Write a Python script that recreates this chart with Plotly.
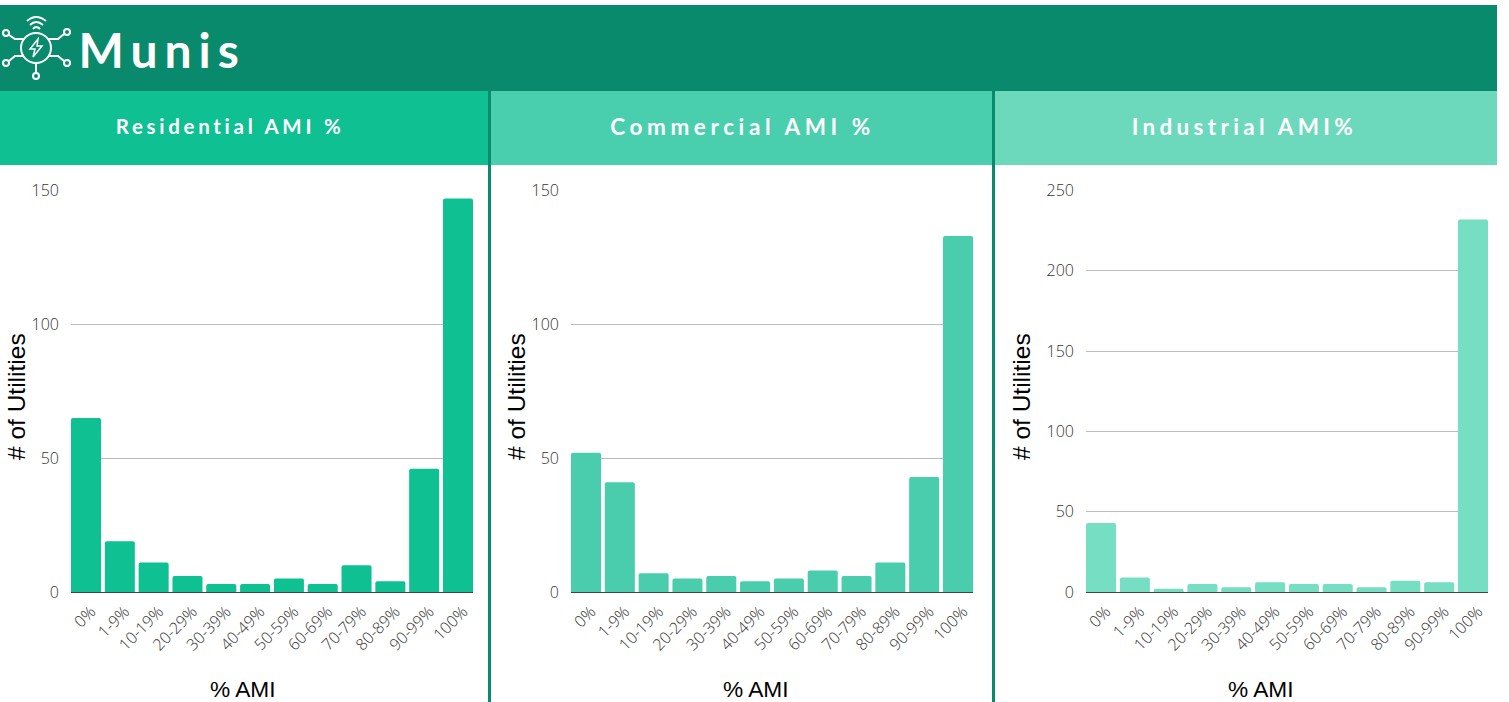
import plotly.graph_objects as go

categories = ["0%", "1-9%", "10-19%", "20-29%", "30-39%", "40-49%", "50-59%", "60-69%", "70-79%", "80-89%", "90-99%", "100%"]
residential = [65, 19, 11, 6, 3, 3, 5, 3, 10, 4, 46, 147]
commercial = [52, 41, 7, 5, 6, 4, 5, 8, 6, 11, 43, 133]
industrial = [43, 9, 2, 5, 3, 6, 5, 5, 3, 7, 6, 232]
panel_titles = ["Residential AMI %", "Commercial AMI %", "Industrial AMI%"]
brand = "Munis"

W, H = 1509, 702
DARK = "#0A8A6C"
C1, C2, C3 = "#0EC092", "#4ACDAC", "#76DEC2"
B1, B2, B3 = "#0EC092", "#4ACFAE", "#6CD9BD"


def px(x):
    return x / W


def py(y):
    return 1 - y / H


def rect(x0, y0, x1, y1, color, layer="below"):
    return dict(type="rect", xref="paper", yref="paper", x0=px(x0), x1=px(x1), y0=py(y1), y1=py(y0),
                fillcolor=color, line_width=0, layer=layer)


def path(cmds, width=2, fill=None):
    out = []
    for c in cmds:
        if isinstance(c, str):
            out.append(c)
        else:
            out.append(f"{px(c[0]):.5f},{py(c[1]):.5f}")
    return dict(type="path", xref="paper", yref="paper", path=" ".join(out),
                line=dict(color="white", width=width), fillcolor=fill or "rgba(0,0,0,0)", layer="above")


def circle(cx, cy, r, width=2):
    return dict(type="circle", xref="paper", yref="paper", x0=px(cx - r), x1=px(cx + r), y0=py(cy + r), y1=py(cy - r),
                line=dict(color="white", width=width), fillcolor="rgba(0,0,0,0)", layer="above")


shapes = [
    rect(0, 5, 1497, 91, DARK),
    rect(0, 91, 490, 165, B1),
    rect(490, 91, 995, 165, B2),
    rect(995, 91, 1497, 165, B3),
    rect(488, 91, 491, 702, DARK, "above"),
    rect(992, 91, 995, 702, DARK, "above"),
    # logo
    circle(36, 48, 15),
    circle(6, 33, 3), circle(67, 32, 3), circle(6, 63, 3), circle(67, 63, 3), circle(36, 76, 3),
    path(["M", (9, 35), "L", (15, 39), "L", (24, 39)]),
    path(["M", (64, 34), "L", (58, 39), "L", (48, 39)]),
    path(["M", (9, 61), "L", (15, 56), "L", (24, 56)]),
    path(["M", (64, 61), "L", (58, 56), "L", (48, 56)]),
    path(["M", (36, 63), "L", (36, 73)]),
    path(["M", (38, 39), "L", (30, 49), "L", (35, 49), "L", (33, 57), "L", (42, 46), "L", (37, 46), "Z"], width=1.5),
    path(["M", (27, 21), "Q", (36, 13), (46, 21)]),
    path(["M", (30, 25), "Q", (36, 19), (43, 25)]),
    path(["M", (33, 29), "Q", (36, 25), (40, 29)]),
]

annotations = []


def note(x, y, text, size, family, color="white", angle=0, weight=None):
    annotations.append(dict(xref="paper", yref="paper", x=px(x), y=py(y), text=text, showarrow=False,
                            xanchor="center", yanchor="middle", textangle=angle,
                            font=dict(size=size, family=family, color=color, weight=weight)))


note(162, 49, brand, 48, "Lato", weight=700)
note(230, 126, panel_titles[0], 20.5, "Lato", weight=700)
note(742, 127, panel_titles[1], 22.5, "Lato", weight=700)
note(1244, 127, panel_titles[2], 22.5, "Lato", weight=700)
for cx, tx in [(243, 16), (756, 516), (1261, 1021)]:
    note(cx, 688.5, "% AMI", 22.7, "Liberation Sans", "#000000")
    note(tx, 397, "# of Utilities", 24.5, "Liberation Sans", "#000000", angle=-90)

fig = go.Figure()
panels = [(residential, C1, 71, 473, 150, 50), (commercial, C2, 571, 973, 150, 50), (industrial, C3, 1086, 1488, 250, 50)]
layout_axes = {}
tick_font = dict(family="Open Sans", size=16, color="#333333", weight=300)
for i, (vals, col, x0, x1, ymax, dt) in enumerate(panels, start=1):
    sx = "" if i == 1 else str(i)
    fig.add_trace(go.Bar(x=categories, y=vals, marker=dict(color=col, cornerradius=2, line_width=0),
                         xaxis=f"x{sx}", yaxis=f"y{sx}", showlegend=False))
    layout_axes[f"xaxis{sx}"] = dict(domain=[px(x0), px(x1)], anchor=f"y{sx}", type="category",
                                     range=[-0.444, 11.444], tickangle=-45, showgrid=False, showline=True,
                                     linecolor="#444444", linewidth=1, ticks="", zeroline=False, automargin=False,
                                     fixedrange=True, ticklabelstandoff=3, ticklabelshift=5, tickfont=tick_font)
    layout_axes[f"yaxis{sx}"] = dict(domain=[py(592), py(190.5)], anchor=f"x{sx}", range=[0, ymax], dtick=dt,
                                     showgrid=True, gridcolor="#BDBDBD", gridwidth=1, zeroline=False, showline=False,
                                     ticks="", automargin=False, fixedrange=True, ticklabelstandoff=11,
                                     tickfont=tick_font)

fig.update_layout(width=W, height=H, autosize=False, margin=dict(l=0, r=0, t=0, b=0),
                  paper_bgcolor="white", plot_bgcolor="white", bargap=0.112,
                  shapes=shapes, annotations=annotations, **layout_axes)

post = """
document.body.style.margin = '0';
var gaps = {'Munis': '7px', 'Residential AMI %': '3.7px', 'Commercial AMI %': '4.6px', 'Industrial AMI%': '4.3px'};
document.querySelectorAll('.annotation-text').forEach(function (t) {
  var g = gaps[t.textContent];
  if (g) t.style.letterSpacing = g;
});
"""
fig.write_html("out.html", post_script=post, config=dict(displayModeBar=False))
